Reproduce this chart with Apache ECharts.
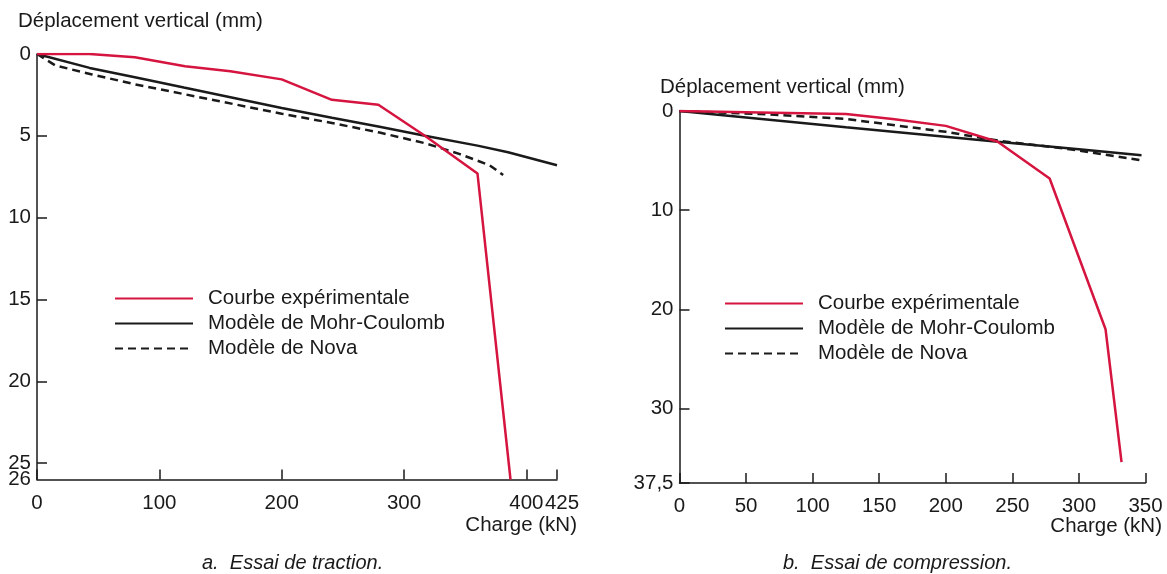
<!DOCTYPE html>
<html>
<head>
<meta charset="utf-8">
<script src="https://cdn.jsdelivr.net/npm/echarts@6/dist/echarts.min.js"></script>
<style>
  html, body { margin: 0; padding: 0; background: #fff; }
  #main { width: 1167px; height: 574px; }
</style>
</head>
<body>
<div id="main"></div>
<script>
// Essai de traction : [charge kN, deplacement mm]
var tractionExp = [[0, 0], [43, 0], [80, 0.2], [121, 0.75], [158, 1.05], [200, 1.55], [241, 2.8], [279, 3.1], [317, 5.0], [360, 7.3], [387, 26]];
var tractionMohr = [[0, 0], [43, 0.85], [80, 1.42], [120, 2.05], [160, 2.67], [200, 3.3], [241, 3.9], [280, 4.45], [317, 5.0], [360, 5.6], [385, 6.0], [425, 6.8]];
var tractionNova = [[0, 0], [15, 0.7], [45, 1.25], [80, 1.85], [120, 2.45], [160, 3.05], [200, 3.65], [240, 4.2], [280, 4.8], [317, 5.45], [345, 6.1], [370, 6.8], [381, 7.4]];
// axis ranges: [max, tick interval]
var tractionX = [425, 100];
var tractionY = [26, 5];

// Essai de compression
var compExp = [[0, 0], [60, 0.15], [125, 0.3], [160, 0.8], [200, 1.5], [239, 3.1], [278, 6.8], [320, 22], [332, 35.4]];
var compMohr = [[0, 0], [125, 1.65], [239, 3.1], [300, 3.85], [347, 4.45]];
var compNova = [[0, 0], [60, 0.3], [125, 0.8], [200, 2.1], [240, 3.0], [293, 3.85], [348, 5.0]];
var compX = [350, 50];
var compY = [37.5, 10];

var seriesNames = ['Courbe expérimentale', 'Modèle de Mohr-Coulomb', 'Modèle de Nova'];

var RED = '#d5143f';
var INK = '#1a1a1a';
var FONT = '"Liberation Sans", Arial, sans-serif';
var FS = 20.5;

function fmt(v) { return String(v).replace('.', ','); }

// endOnly: extra axis that only draws the tick/label at the range end (425, 26)
function xAx(gridIndex, r, endOnly) {
  return {
    type: 'value', gridIndex: gridIndex, position: 'bottom', offset: 0,
    min: 0, max: r[0], interval: endOnly ? r[0] : r[1],
    splitLine: { show: false },
    axisLine: { show: !endOnly, onZero: false, lineStyle: { color: INK, width: 1.5 } },
    axisTick: { inside: true, length: 10, lineStyle: { color: INK, width: 1.5 } },
    axisLabel: {
      color: INK, fontSize: FS, fontFamily: FONT, margin: 13,
      padding: endOnly ? [0, 0, 0, 10] : 0,
      formatter: function (v) { return endOnly && v !== r[0] ? '' : fmt(v); }
    }
  };
}
function yAx(gridIndex, r, endOnly) {
  return {
    type: 'value', gridIndex: gridIndex, position: 'left', offset: 0, inverse: true,
    min: 0, max: r[0], interval: endOnly ? r[0] : r[1],
    splitLine: { show: false },
    axisLine: { show: !endOnly, onZero: false, lineStyle: { color: INK, width: 1.5 } },
    axisTick: { show: !endOnly, inside: true, length: 10, lineStyle: { color: INK, width: 1.5 } },
    axisLabel: {
      color: INK, fontSize: FS, fontFamily: FONT, margin: 6,
      formatter: function (v) { return endOnly && v !== r[0] ? '' : fmt(v); }
    }
  };
}
function line(name, data, idx, color, dashed) {
  return {
    name: name, type: 'line', xAxisIndex: idx, yAxisIndex: idx,
    data: data, symbol: 'none', silent: true, animation: false,
    lineStyle: { color: color, width: 2.5, type: dashed ? [8, 5] : 'solid' },
    itemStyle: { color: color }
  };
}
function legend(left, top) {
  return {
    data: seriesNames, orient: 'vertical', left: left, top: top, padding: 0,
    itemWidth: 78, itemHeight: 14, itemGap: 4, selectedMode: false,
    itemStyle: { opacity: 0 },
    textStyle: { color: INK, fontSize: FS, fontFamily: FONT, lineHeight: 20, padding: [0, 0, 0, 10] }
  };
}
function txt(text, pos, extra) {
  return Object.assign({
    text: text, padding: 0,
    textStyle: Object.assign({ color: INK, fontSize: FS, fontWeight: 'normal', fontFamily: FONT }, extra || {})
  }, pos);
}

var chart = echarts.init(document.getElementById('main'));
chart.setOption({
  backgroundColor: '#fff',
  title: [
    txt('Déplacement vertical (mm)', { left: 18, top: 11 }),
    txt('Déplacement vertical (mm)', { left: 660, top: 77 }),
    txt('Charge (kN)', { right: 590, top: 515 }),
    txt('Charge (kN)', { right: 5, top: 516 }),
    txt('a.  Essai de traction.', { left: 202, top: 553 }, { fontStyle: 'italic', fontSize: 20 }),
    txt('b.  Essai de compression.', { left: 783, top: 553 }, { fontStyle: 'italic', fontSize: 20 })
  ],
  legend: [legend(114, 288), legend(724, 293)],
  grid: [
    { left: 37, top: 54, width: 520, height: 425.5 },
    { left: 679.5, top: 111, width: 466, height: 372 }
  ],
  xAxis: [xAx(0, tractionX), xAx(1, compX), xAx(0, tractionX, true)],
  yAxis: [yAx(0, tractionY), yAx(1, compY), yAx(0, tractionY, true)],
  series: [
    line(seriesNames[2], tractionNova, 0, INK, true),
    line(seriesNames[1], tractionMohr, 0, INK, false),
    line(seriesNames[0], tractionExp, 0, RED, false),
    line(seriesNames[2], compNova, 1, INK, true),
    line(seriesNames[1], compMohr, 1, INK, false),
    line(seriesNames[0], compExp, 1, RED, false)
  ]
});
</script>
</body>
</html>
